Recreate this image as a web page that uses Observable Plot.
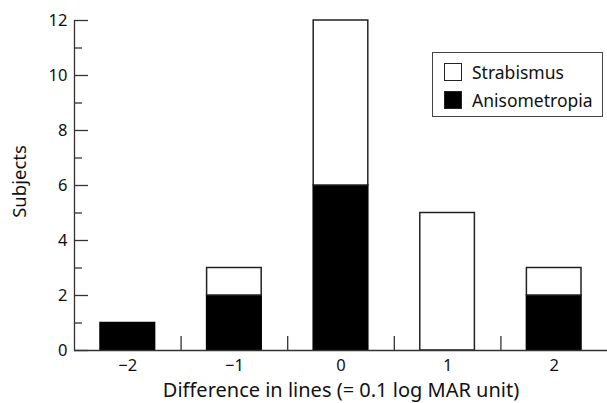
<!DOCTYPE html>
<html><head><meta charset="utf-8">
<script src="https://cdn.jsdelivr.net/npm/d3@7"></script>
<script src="https://cdn.jsdelivr.net/npm/@observablehq/plot@0.6"></script>
<style>
body{margin:0;background:#fff;}
#wrap{position:relative;width:607px;height:403px;font-family:"Noto Sans",sans-serif;}
#wrap svg{display:block;}
.legend{position:absolute;left:432px;top:52px;width:171px;height:65px;border:1px solid #444;box-sizing:border-box;background:#fff;padding:5px 0 0 11px;}
.legend .row{display:flex;align-items:center;height:28px;font-size:17.5px;color:#111;}
.legend .sw{width:18px;height:18px;box-sizing:border-box;border:1.5px solid #222;margin-right:10px;}
</style></head>
<body><div id="wrap"></div>
<script>
// Data
const diffs = [-2, -1, 0, 1, 2];
const anisometropia = [1, 2, 6, 0, 2];
const strabismus = [0, 1, 6, 5, 1];
const seriesNames = ["Strabismus", "Anisometropia"];
const seriesColors = ["white", "black"];
const yMajorTicks = [0, 2, 4, 6, 8, 10, 12];
const yMinorTicks = [1, 3, 5, 7, 9, 11];
const bandEdges = [-1.5, -0.5, 0.5, 1.5];
const xLabel = "Difference in lines (= 0.1 log MAR unit)";
const yLabel = "Subjects";

const table = [];
diffs.forEach((d, i) => {
  table.push({diff: d, type: "Anisometropia", value: anisometropia[i]});
  table.push({diff: d, type: "Strabismus", value: strabismus[i]});
});
const rows = table.filter(r => r.value > 0);
const fmt = d3.format("d");

const chart = Plot.plot({
  width: 607,
  height: 403,
  marginLeft: 74,
  marginRight: 0,
  marginTop: 20,
  marginBottom: 53,
  style: {fontFamily: "'Noto Sans', sans-serif", fontSize: "16.5px", color: "#111", background: "white"},
  x: {type: "linear", domain: [-2.5, 2.5]},
  y: {domain: [0, 12]},
  color: {domain: seriesNames, range: seriesColors},
  marks: [
    Plot.rectY(rows, {
      x1: d => d.diff - 0.5, x2: d => d.diff + 0.5,
      y: "value", fill: "type", z: "type",
      order: ["Anisometropia", "Strabismus"],
      insetLeft: 26, insetRight: 26,
      stroke: d => d.type === "Anisometropia" ? "black" : "#222",
      strokeWidth: 1.5
    }),
    Plot.ruleY([0], {stroke: "#333", strokeWidth: 1.3}),
    Plot.ruleX([-2.5], {stroke: "#333", strokeWidth: 1.3}),
    // inward tick marks
    Plot.ruleY(yMajorTicks, {y: d => d, x1: -2.5, x2: -2.5, insetRight: -14, stroke: "#333", strokeWidth: 1.3}),
    Plot.ruleY(yMinorTicks, {y: d => d, x1: -2.5, x2: -2.5, insetRight: -8, stroke: "#333", strokeWidth: 1.3}),
    Plot.ruleX(bandEdges, {x: d => d, y1: 0, y2: 0, insetTop: -14, stroke: "#333", strokeWidth: 1.3}),
    Plot.axisY({ticks: yMajorTicks, tickSize: 0, tickPadding: 7, tickFormat: fmt, label: null}),
    Plot.axisX({ticks: diffs, tickSize: 0, tickPadding: 9, tickFormat: fmt, label: null}),
    Plot.text([xLabel], {text: d => d, frameAnchor: "bottom", textAnchor: "middle", dy: 46, lineAnchor: "bottom", fontSize: 20}),
    Plot.text([yLabel], {text: d => d, frameAnchor: "left", textAnchor: "middle", dx: -54, dy: -4, rotate: -90, lineAnchor: "middle", fontSize: 18.5})
  ]
});
const wrap = document.getElementById("wrap");
wrap.appendChild(chart);

const legend = document.createElement("div");
legend.className = "legend";
seriesNames.forEach((name, i) => {
  const row = document.createElement("div");
  row.className = "row";
  const sw = document.createElement("div");
  sw.className = "sw";
  sw.style.background = seriesColors[i];
  const t = document.createElement("span");
  t.textContent = name;
  row.appendChild(sw); row.appendChild(t);
  legend.appendChild(row);
});
wrap.appendChild(legend);
</script>
</body></html>
